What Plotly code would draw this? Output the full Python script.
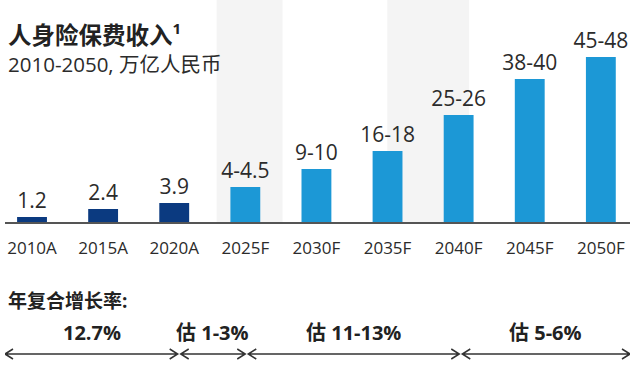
import plotly.graph_objects as go

# ---------------- data ----------------
categories = ["2010A", "2015A", "2020A", "2025F", "2030F", "2035F", "2040F", "2045F", "2050F"]
value_labels = ["1.2", "2.4", "3.9", "4-4.5", "9-10", "16-18", "25-26", "38-40", "45-48"]
# drawn bar heights (the source chart is not to scale)
bar_heights = [5, 13, 19, 35, 53, 71, 107, 143, 165]
is_actual = [True, True, True, False, False, False, False, False, False]

# CAGR periods: boundaries in category-index units and their labels
cagr_bounds = [-0.38, 2.07, 3.02, 6.03, 8.41]
cagr_labels = ["12.7%", "估 1-3%", "估 11-13%", "估 5-6%"]

# light shaded spans (category-index units)
shaded_spans = [(2.596, 3.523), (4.996, 6.147)]

title = "人身险保费收入"
title_note = "1"
subtitle = "2010-2050, 万亿人民币"
cagr_title = "年复合增长率:"

# ---------------- style ----------------
FONT = "Open Sans, Noto Sans CJK SC, sans-serif"
NAVY = "#0b3a80"
BLUE = "#1c98d6"
BAND = "#f4f4f4"
TXT = "#2b2b2b"
W, H = 640, 367
PLOT_BOTTOM = 222  # pixel of baseline
X0_PX, X1_PX = 5, 630

def py(p):
    """pixel y -> paper y"""
    return (PLOT_BOTTOM - p) / PLOT_BOTTOM

def px(p):
    return p / W

xs = list(range(len(categories)))
colors = [NAVY if a else BLUE for a in is_actual]

fig = go.Figure()
fig.add_trace(go.Bar(
    x=xs, y=bar_heights, width=0.42,
    marker=dict(color=colors, line=dict(width=0)),
    text=value_labels, textposition="outside", constraintext="none",
    textfont=dict(family=FONT, size=21, color=TXT),
    cliponaxis=False, hoverinfo="skip",
))

shapes = []
for a, b in shaded_spans:
    shapes.append(dict(type="rect", xref="x", yref="paper", x0=a, x1=b, y0=0, y1=1,
                       fillcolor=BAND, line=dict(width=0), layer="below"))

# CAGR arrows
unit_px = (X1_PX - X0_PX) / (cagr_bounds[-1] - cagr_bounds[0])
head_l = 8 / unit_px
gap = 1.5 / unit_px
ya = py(354)
hh = 5 / PLOT_BOTTOM
for i in range(len(cagr_labels)):
    a = cagr_bounds[i] + (gap if i > 0 else 0)
    b = cagr_bounds[i + 1] - (gap if i < len(cagr_labels) - 1 else 0)
    path = (f"M{a},{ya} L{b},{ya} "
            f"M{a + head_l},{ya + hh} L{a},{ya} L{a + head_l},{ya - hh} "
            f"M{b - head_l},{ya + hh} L{b},{ya} L{b - head_l},{ya - hh}")
    shapes.append(dict(type="path", xref="x", yref="paper", path=path,
                       line=dict(color="#333333", width=1.5)))

annotations = [
    dict(text=f"<b>{title}<sup><span style='font-size:15px'>{title_note}</span></sup></b>",
         x=px(6), y=py(34), xref="paper", yref="paper",
         xanchor="left", yanchor="middle", showarrow=False,
         font=dict(family=FONT, size=23.5, color="#222222")),
    dict(text=subtitle, x=px(6), y=py(64), xref="paper", yref="paper",
         xanchor="left", yanchor="middle", showarrow=False,
         font=dict(family=FONT, size=20.5, color=TXT)),
    dict(text=f"<b>{cagr_title}</b>", x=px(6), y=py(301), xref="paper", yref="paper",
         xanchor="left", yanchor="middle", showarrow=False,
         font=dict(family=FONT, size=19, color="#222222")),
]
for i, lab in enumerate(cagr_labels):
    annotations.append(dict(
        text=f"<b>{lab}</b>", x=(cagr_bounds[i] + cagr_bounds[i + 1]) / 2, y=py(332),
        xref="x", yref="paper", xanchor="center", yanchor="middle", showarrow=False,
        font=dict(family=FONT, size=20, color="#222222")))

fig.update_layout(
    width=W, height=H,
    margin=dict(l=0, r=0, t=0, b=H - PLOT_BOTTOM, pad=0),
    paper_bgcolor="white", plot_bgcolor="rgba(0,0,0,0)",
    showlegend=False, shapes=shapes, annotations=annotations,
    font=dict(family=FONT, color=TXT),
    xaxis=dict(domain=[X0_PX / W, X1_PX / W], range=[cagr_bounds[0], cagr_bounds[-1]],
               tickmode="array", tickvals=xs, ticktext=categories,
               tickfont=dict(family=FONT, size=17, color=TXT),
               ticklabelstandoff=10,
               showline=True, linecolor="#555555", linewidth=1.5,
               showgrid=False, zeroline=False, ticks="", fixedrange=True),
    yaxis=dict(range=[0, PLOT_BOTTOM], visible=False, showgrid=False, zeroline=False,
               fixedrange=True),
)

fig.write_html(
    "out.html",
    config={"displayModeBar": False, "staticPlot": True},
    post_script="document.body.style.margin='0';document.body.style.overflow='hidden';",
)
